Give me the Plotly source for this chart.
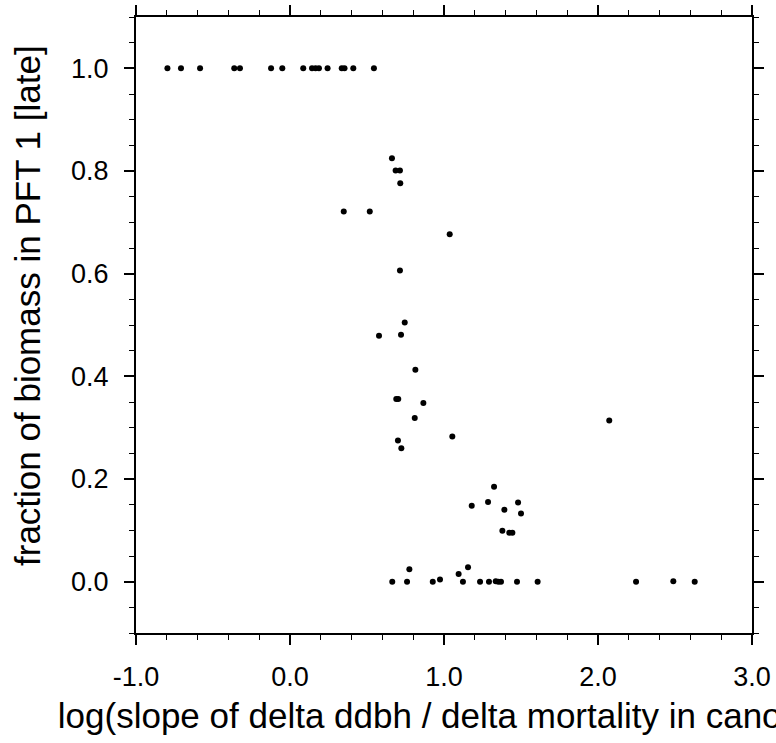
import plotly.graph_objects as go

# Values
x_vals = [
    -0.796, -0.708, -0.584, -0.362, -0.325, -0.123, -0.050, 0.086, 0.143, 0.166,
    0.188, 0.244, 0.336, 0.354, 0.411, 0.545,
    0.662, 0.686, 0.714, 0.716, 0.349, 0.518, 1.037, 0.714, 0.745, 0.578,
    0.721, 0.814, 0.690, 0.703, 0.866, 0.810,
    2.073, 0.701, 0.723, 1.054, 1.325, 1.180, 1.286, 1.392, 1.481, 1.500,
    1.379, 1.424, 1.444, 0.775,
    0.664, 0.760, 0.927, 0.974, 1.095, 1.156, 1.123, 1.234, 1.292, 1.336,
    1.353, 1.370, 1.474, 1.608, 2.247, 2.489, 2.628,
]
y_vals = [
    1.0, 1.0, 1.0, 1.0, 1.0, 1.0, 1.0, 1.0, 1.0, 1.0,
    1.0, 1.0, 1.0, 1.0, 1.0, 1.0,
    0.825, 0.801, 0.801, 0.776, 0.721, 0.721, 0.677, 0.606, 0.505, 0.479,
    0.481, 0.413, 0.356, 0.356, 0.348, 0.319,
    0.314, 0.275, 0.260, 0.283, 0.185, 0.148, 0.155, 0.140, 0.154, 0.133,
    0.099, 0.0955, 0.0955, 0.024,
    0.0, 0.0, 0.0, 0.004, 0.015, 0.028, 0.0, 0.0, 0.0, 0.001,
    0.0, 0.0, 0.0, 0.0, 0.0, 0.001, 0.0,
]

x_tick_vals = [-1.0, 0.0, 1.0, 2.0, 3.0]
x_tick_text = ["-1.0", "0.0", "1.0", "2.0", "3.0"]
y_tick_vals = [0.0, 0.2, 0.4, 0.6, 0.8, 1.0]
y_tick_text = ["0.0", "0.2", "0.4", "0.6", "0.8", "1.0"]

x_title = "log(slope of delta ddbh / delta mortality in canopy)"
y_title = "fraction of biomass in PFT 1 [late]"

FONT = "Liberation Sans, Arial, Helvetica, sans-serif"

fig = go.Figure(
    go.Scatter(
        x=x_vals, y=y_vals, mode="markers",
        marker=dict(color="black", size=6, line=dict(width=0)),
        showlegend=False,
    )
)

axis_common = dict(
    showline=True, linecolor="black", linewidth=2, mirror="allticks",
    ticks="outside", ticklen=10, tickwidth=2, tickcolor="black",
    showgrid=False, zeroline=False,
    tickfont=dict(family=FONT, size=27, color="black"),
)

fig.update_xaxes(
    range=[-1.0, 3.0], tickmode="array", tickvals=x_tick_vals, ticktext=x_tick_text,
    minor=dict(dtick=0.2, tick0=-1.0, ticks="outside", ticklen=5, tickwidth=1, tickcolor="black", showgrid=False),
    ticklabelstandoff=9,
    title=dict(text=x_title, font=dict(family=FONT, size=35, color="black"), standoff=12),
    **axis_common,
)
fig.update_yaxes(
    range=[-0.1, 1.1], tickmode="array", tickvals=y_tick_vals, ticktext=y_tick_text,
    minor=dict(dtick=0.05, tick0=0.0, ticks="outside", ticklen=5, tickwidth=1, tickcolor="black", showgrid=False),
    ticklabelstandoff=10,
    **axis_common,
)

fig.add_annotation(
    text=y_title, textangle=-90, showarrow=False,
    xref="paper", yref="paper", x=0, y=0.5,
    xanchor="center", yanchor="middle",
    xshift=-109, yshift=19,
    font=dict(family=FONT, size=35, color="black"),
)

fig.update_layout(
    width=776, height=743,
    margin=dict(l=136, r=24, t=17, b=110, autoexpand=False),
    paper_bgcolor="white", plot_bgcolor="white",
)

fig.write_html("out.html")
